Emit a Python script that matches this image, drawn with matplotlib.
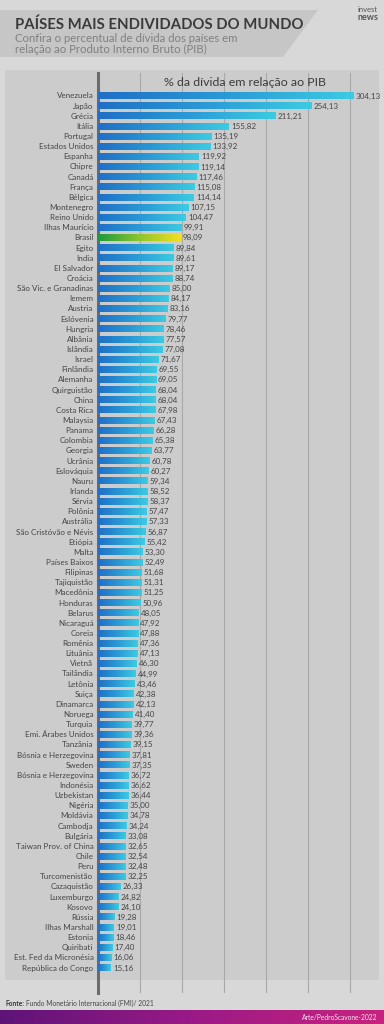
import numpy as np
import matplotlib
matplotlib.use("Agg")
import matplotlib.pyplot as plt
from matplotlib.colors import LinearSegmentedColormap
from matplotlib.patches import Polygon, Rectangle

countries = ["Venezuela", "Japão", "Grécia", "Itália", "Portugal", "Estados Unidos", "Espanha",
             "Chipre", "Canadá", "França", "Bélgica", "Montenegro", "Reino Unido", "Ilhas Maurício",
             "Brasil", "Egito", "India", "El Salvador", "Croácia", "São Vic. e Granadinas", "Iemem",
             "Austria", "Eslóvenia", "Hungria", "Albânia", "Islândia", "Israel", "Finlândia",
             "Alemanha", "Quirguistão", "China", "Costa Rica", "Malaysia", "Panama", "Colombia",
             "Georgia", "Ucrânia", "Eslováquia", "Nauru", "Irlanda", "Sérvia", "Polônia",
             "Austrália", "São Cristóvão e Névis", "Etiópia", "Malta", "Países Baixos", "Filipinas",
             "Tajiquistão", "Macedônia", "Honduras", "Belarus", "Nicaraguá", "Coreia", "Romênia",
             "Lituânia", "Vietnã", "Tailândia", "Letônia", "Suiça", "Dinamarca", "Noruega",
             "Turquia", "Emi. Árabes Unidos", "Tanzânia", "Bósnia e Herzegovina", "Sweden",
             "Bósnia e Herzegovina", "Indonésia", "Uzbekistan", "Nigéria", "Moldávia", "Cambodja",
             "Bulgária", "Taiwan Prov. of China", "Chile", "Peru", "Turcomenistão", "Cazaquistão",
             "Luxemburgo", "Kosovo", "Rússia", "Ilhas Marshall", "Estonia", "Quiribati",
             "Est. Fed da Micronésia", "República do Congo"]

values = [304.13, 254.13, 211.21, 155.82, 135.19, 133.92, 119.92, 119.14, 117.46, 115.08,
          114.14, 107.15, 104.47, 99.91, 98.09, 89.84, 89.61, 89.17, 88.74, 85.00, 84.17,
          83.16, 79.77, 78.46, 77.57, 77.08, 71.67, 69.55, 69.05, 68.04, 68.04, 67.98, 67.43,
          66.28, 65.38, 63.77, 60.78, 60.27, 59.34, 58.52, 58.37, 57.47, 57.33, 56.87, 55.42,
          53.30, 52.49, 51.68, 51.31, 51.25, 50.96, 48.05, 47.92, 47.88, 47.36, 47.13, 46.30,
          44.99, 43.46, 42.38, 42.13, 41.40, 39.77, 39.36, 39.15, 37.81, 37.35, 36.72, 36.62,
          36.44, 35.00, 34.78, 34.24, 33.08, 32.65, 32.54, 32.48, 32.25, 26.33, 24.82, 24.10,
          19.28, 19.01, 18.46, 17.40, 16.06, 15.16]

highlight = "Brasil"
grid_ticks = [50, 100, 150, 200, 250, 300]

title = "PAÍSES MAIS ENDIVIDADOS DO MUNDO"
subtitle = "Confira o percentual de dívida dos países em\nrelação ao Produto Interno Bruto (PIB)"
axis_title = "% da dívida em relação ao PIB"
source_bold = "Fonte:"
source_text = "Fundo Monetário Internacional (FMI)/ 2021"
credit = "Arte/PedroScavone-2022"

W, H = 384, 1024
fig = plt.figure(figsize=(W / 100, H / 100), dpi=100)
fig.patch.set_facecolor("#d8d8d8")

FONT = ["Lato", "DejaVu Sans"]

# background layer in pixel coordinates
bg = fig.add_axes([0, 0, 1, 1], zorder=0)
bg.axis("off")
bg.add_patch(Polygon([(0, 10), (318, 10), (283, 57), (0, 57)], closed=True,
                     facecolor="#c6c6c6", edgecolor="none"))
bg.add_patch(Rectangle((5, 70), 374, 910, facecolor="#cccccc", edgecolor="none"))
grad = np.linspace(0, 1, 256).reshape(1, -1)
purple = LinearSegmentedColormap.from_list("p", ["#5e1477", "#9a1a86", "#c8237f"])
bg.imshow(grad, extent=[0, W, H, 1010], cmap=purple, aspect="auto", zorder=1)
bg.set_xlim(0, W)
bg.set_ylim(H, 0)

bg.text(15, 25, title, fontsize=10.7, fontweight="bold", color="#3a3a3a",
        family=FONT, va="center", ha="left")
bg.text(15, 44, subtitle, fontsize=8.2, color="#808080", family=FONT,
        va="center", ha="left", linespacing=1.1)
bg.text(378, 10, "invest", fontsize=5.5, color="#555555", family=FONT,
        ha="right", va="center")
bg.text(378, 17, "news", fontsize=6.5, fontweight="bold", color="#555555",
        family=FONT, ha="right", va="center")
bg.text(5, 1003, source_bold, fontsize=4.8, fontweight="bold", color="#333333",
        family=FONT, ha="left", va="center")
bg.text(26, 1003, source_text, fontsize=4.8, color="#444444",
        family=FONT, ha="left", va="center")
bg.text(377, 1017, credit, fontsize=4.8, color="#f0e6f0", family=FONT,
        ha="right", va="center", zorder=3)

# main chart axes
left_px, right_px = 98, 379
top_px, bot_px = 73, 993
ax = fig.add_axes([left_px / W, 1 - bot_px / H, (right_px - left_px) / W,
                   (bot_px - top_px) / H], zorder=2)
ax.set_facecolor("none")

row0, row_step = 96, 10.14
xscale = 0.84

blue = LinearSegmentedColormap.from_list("b", ["#1f6fc6", "#2a9ad6", "#3ccbe2"])
green = LinearSegmentedColormap.from_list("g", ["#1b9a3c", "#8cc630", "#f6df1e"])
bh = 0.62
for i, (c, v) in enumerate(zip(countries, values)):
    cmap = green if c == highlight else blue
    ax.imshow(grad, extent=[0, v, i + bh / 2, i - bh / 2], cmap=cmap,
              aspect="auto", zorder=3, interpolation="bilinear")
    ax.text(-5.5, i, c, ha="right", va="center", fontsize=5.8, color="#444444",
            family=FONT)
    ax.text(v + 2.5, i, f"{v:.2f}".replace(".", ","), ha="left", va="center",
            fontsize=5.8, color="#444444", family=FONT, zorder=4)

ax.set_ylim((bot_px - row0) / row_step, (top_px - row0) / row_step)
ax.set_xlim(0, (right_px - left_px) / xscale)
ax.set_aspect("auto")

ax.set_xticks(grid_ticks)
ax.set_yticks([])
ax.tick_params(axis="x", length=0, labelbottom=False)
ax.grid(axis="x", color="#a9a9a9", linewidth=0.8, zorder=1)
ax.set_axisbelow(True)
for s in ["top", "right", "bottom"]:
    ax.spines[s].set_visible(False)
ax.spines["left"].set_color("#6b6b6b")
ax.spines["left"].set_linewidth(2.2)

ax.text(175, (82 - row0) / row_step, axis_title, fontsize=8.9, color="#3a3a3a",
        family=FONT, ha="center", va="center", zorder=4)

fig.savefig("out.png", dpi=100, facecolor=fig.get_facecolor())
